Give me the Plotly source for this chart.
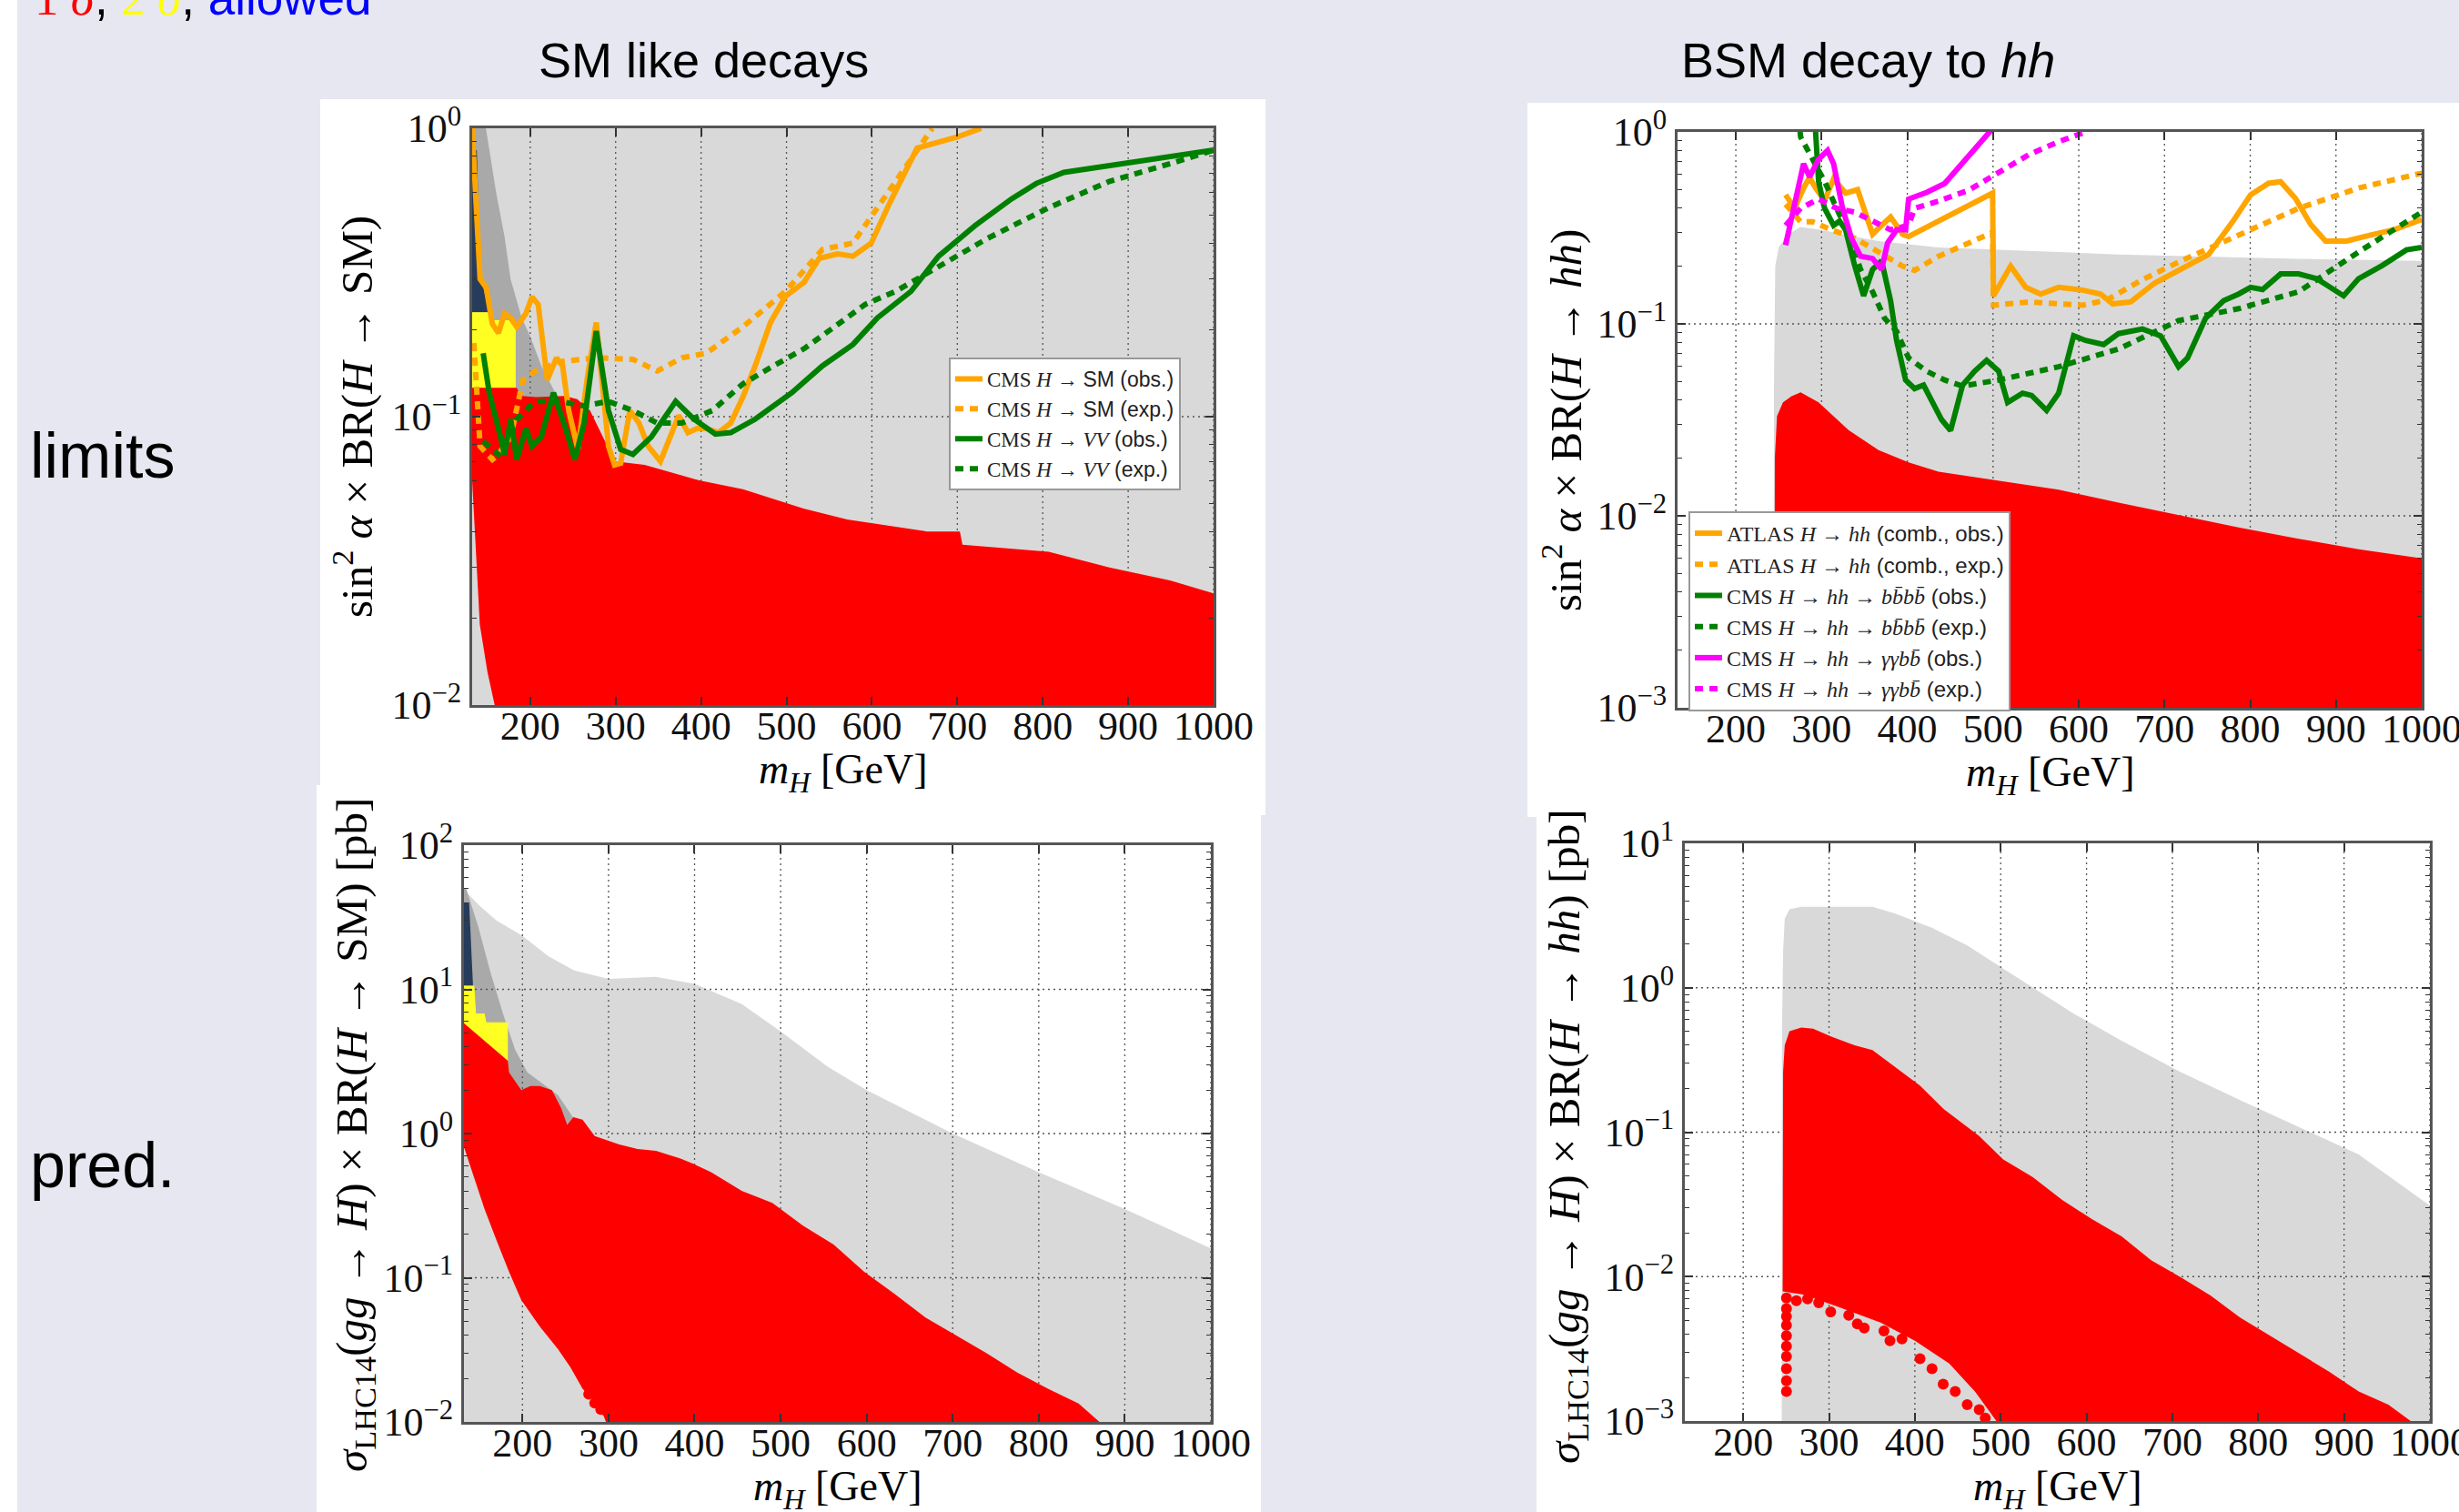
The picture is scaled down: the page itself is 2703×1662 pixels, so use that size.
import plotly.graph_objects as go

W, H = 2703, 1662

# ======================= DATA =======================
# ---- top-left: limits on sin^2(alpha) x BR(H -> SM) ----
tl_lgray_x = [132, 1000]
tl_lgray_hi = [2.0, 2.0]
tl_lgray_lo = [0.001, 0.001]

tl_dgray_x = [132, 148, 160, 170, 177, 190, 200, 213, 230, 248, 265]
tl_dgray_hi = [2.0, 1.0, 0.6, 0.42, 0.3, 0.22, 0.19, 0.15, 0.12, 0.1, 0.088]
tl_dgray_lo = [0.09, 0.09, 0.09, 0.09, 0.09, 0.09, 0.09, 0.09, 0.09, 0.09, 0.08]

tl_navy_x = [132, 137.5, 140, 142.7, 152]
tl_navy_hi = [0.84, 0.84, 0.46, 0.30, 0.23]
tl_navy_lo = [0.23, 0.23, 0.23, 0.23, 0.23]

tl_yel_x = [132, 152, 153, 183]
tl_yel_hi = [0.23, 0.23, 0.216, 0.216]
tl_yel_lo = [0.12, 0.12, 0.12, 0.12]

tl_red_x = [132, 136, 141, 150, 160, 184, 190, 207, 240, 255, 270, 285, 299, 334, 399,
            449, 520, 571, 664, 703, 706, 807, 878, 950, 1000]
tl_red_hi = [0.126, 0.126, 0.126, 0.126, 0.126, 0.126, 0.118, 0.117, 0.118, 0.115, 0.105,
             0.085, 0.07, 0.068, 0.06, 0.056, 0.048, 0.044, 0.04, 0.04, 0.036, 0.034,
             0.03, 0.027, 0.0244]
tl_red_lo = [0.06, 0.035, 0.019, 0.013, 0.0095, 0.005, 0.005, 0.005, 0.005, 0.005, 0.005,
             0.005, 0.005, 0.005, 0.005, 0.005, 0.005, 0.005, 0.005, 0.005, 0.005, 0.005,
             0.005, 0.005, 0.005]

sm_obs_x = [132, 137.7, 141.3, 148.5, 155.6, 162.8, 169.9, 177.1, 184.2, 195, 202, 209.3,
            220, 230.7, 237.9, 245, 255.8, 266.5, 277.3, 291.6, 298.7, 305.9, 316.6, 327.3,
            338.1, 352.4, 363.1, 373.9, 384.6, 395.3, 406.1, 420.4, 434.7, 449, 463.3,
            481.2, 499.1, 520.5, 538.4, 559.9, 577.8, 599.3, 620.7, 652.9, 699.4, 728]
sm_obs_y = [1.0, 0.46, 0.30, 0.28, 0.21, 0.195, 0.228, 0.22, 0.205, 0.228, 0.26, 0.245,
            0.134, 0.16, 0.15, 0.105, 0.077, 0.134, 0.212, 0.079, 0.068, 0.069, 0.105, 0.095,
            0.079, 0.07, 0.085, 0.101, 0.088, 0.091, 0.091, 0.088, 0.095, 0.117, 0.15,
            0.212, 0.262, 0.292, 0.354, 0.367, 0.36, 0.40, 0.55, 0.853, 0.932, 1.0]

sm_exp_x = [134, 141.3, 155.6, 162.8, 177.1, 191.4, 205.7, 234.3, 277.3, 320.2, 348.8,
            377.4, 406.1, 449, 499.1, 542, 577.8, 620.7, 670.8]
sm_exp_y = [0.18, 0.079, 0.071, 0.074, 0.085, 0.134, 0.144, 0.155, 0.16, 0.158, 0.144,
            0.16, 0.166, 0.205, 0.272, 0.38, 0.40, 0.61, 1.0]

vv_obs_x = [144.9, 152, 162.8, 169.9, 177.1, 184.2, 195, 202.1, 212.9, 227.2, 241.5, 252.2,
            263, 277.3, 291.6, 305.9, 320.2, 341.7, 370.3, 391.7, 416.8, 434.7, 463.3,
            506.2, 542, 577.8, 606.4, 645.8, 678, 720.9, 763.8, 792.5, 824.7, 1000]
vv_obs_y = [0.166, 0.121, 0.091, 0.074, 0.098, 0.071, 0.091, 0.079, 0.085, 0.121, 0.091,
            0.071, 0.095, 0.198, 0.105, 0.077, 0.074, 0.085, 0.113, 0.098, 0.087, 0.088,
            0.098, 0.121, 0.15, 0.178, 0.22, 0.272, 0.36, 0.46, 0.57, 0.644, 0.703, 0.84]

vv_exp_x = [144.9, 162.8, 184.2, 205.7, 234.3, 263, 291.6, 320.2, 348.8, 377.4, 413.2, 449,
            484.8, 520.5, 556.3, 592.1, 627.9, 663.7, 735.2, 806.8, 878.3, 949.9, 1000]
vv_exp_y = [0.082, 0.074, 0.098, 0.113, 0.113, 0.109, 0.113, 0.105, 0.095, 0.095, 0.105,
            0.13, 0.15, 0.172, 0.205, 0.245, 0.272, 0.313, 0.415, 0.53, 0.655, 0.755, 0.84]

# ---- top-right: limits on sin^2(alpha) x BR(H -> hh) ----
tr_lgray_x = [244, 244.5, 246, 250, 260, 275, 297, 366, 436, 506, 576, 646, 716, 786, 856, 1000]
tr_lgray_hi = [0.0005, 0.05, 0.2, 0.25, 0.29, 0.32, 0.31, 0.27, 0.25, 0.244, 0.237, 0.23,
               0.226, 0.222, 0.218, 0.213]
tr_lgray_lo = [0.0005] * 16

tr_red_x = [245, 245.5, 248, 255, 265, 275.6, 296.5, 331.5, 366.5, 401.5, 436.5, 506.5,
            576.5, 646.4, 716.4, 786.4, 856.4, 926.4, 1000]
tr_red_hi = [0.0005, 0.02, 0.033, 0.039, 0.042, 0.044, 0.039, 0.028, 0.022, 0.019, 0.017,
             0.0152, 0.0137, 0.0117, 0.0101, 0.0087, 0.0076, 0.0067, 0.006]
tr_red_lo = [0.0005] * 19

atlas_obs_x = [258, 268.6, 279, 286, 293, 303.5, 314, 328, 342, 359.5, 370, 380.5, 394.5,
               401.5, 499.5, 500.5, 520.5, 538, 555.5, 576.5, 604.5, 625.5, 639.5, 660.5,
               688.4, 716.4, 751.4, 779.4, 800.4, 821.4, 835.4, 852.9, 870.4, 887.9, 912.4,
               940.4, 968.3, 1000]
atlas_obs_y = [0.47, 0.40, 0.51, 0.58, 0.51, 0.44, 0.57, 0.48, 0.50, 0.293, 0.326, 0.36,
               0.293, 0.285, 0.48, 0.14, 0.2, 0.155, 0.143, 0.155, 0.15, 0.143, 0.127, 0.13,
               0.163, 0.19, 0.23, 0.34, 0.47, 0.54, 0.55, 0.45, 0.33, 0.27, 0.27, 0.29,
               0.31, 0.35]

atlas_exp_x = [258, 275.6, 289.6, 310.5, 338.5, 366.5, 394.5, 408.5, 436.5, 492.5, 499.5,
               500.5, 541.5, 604.5, 632.4, 674.4, 716.4, 786.4, 856.4, 926.4, 1000]
atlas_exp_y = [0.42, 0.34, 0.34, 0.31, 0.28, 0.236, 0.2, 0.19, 0.225, 0.29, 0.30, 0.125,
               0.13, 0.125, 0.133, 0.17, 0.21, 0.29, 0.40, 0.51, 0.61]

b4_obs_x = [291.5, 293, 296.5, 303.5, 314, 321, 328, 338.5, 349, 359.5, 370, 380.5, 387.5,
            398, 408.5, 419, 429.5, 440, 450.5, 464.5, 478.5, 492.5, 506.5, 517, 534.5, 545,
            562.5, 576.5, 594, 608, 629, 646.4, 674.4, 695.4, 716.4, 726.9, 747.9, 768.9,
            786.4, 800.4, 814.4, 835.4, 856.4, 877.4, 908.9, 926.4, 954.4, 982.3, 1000]
b4_obs_y = [1.3, 1.0, 0.553, 0.40, 0.326, 0.343, 0.309, 0.202, 0.14, 0.192, 0.213, 0.132,
            0.082, 0.051, 0.046, 0.048, 0.039, 0.0317, 0.0278, 0.048, 0.0567, 0.0646, 0.0567,
            0.039, 0.0435, 0.0424, 0.0354, 0.0435, 0.0867, 0.082, 0.078, 0.089, 0.094,
            0.0867, 0.0598, 0.0664, 0.107, 0.132, 0.143, 0.155, 0.151, 0.182, 0.182, 0.172,
            0.14, 0.172, 0.202, 0.243, 0.25]

b4_exp_x = [273, 275.6, 289.6, 303.5, 317.5, 331.5, 345.5, 359.5, 373.5, 387.5, 401.5,
            422.5, 443.5, 464.5, 506.5, 576.5, 646.4, 716.4, 786.4, 856.4, 926.4, 1000]
b4_exp_y = [1.2, 0.94, 0.72, 0.553, 0.40, 0.293, 0.192, 0.147, 0.107, 0.0915, 0.0664,
            0.0567, 0.051, 0.0474, 0.051, 0.0598, 0.074, 0.104, 0.12, 0.147, 0.237, 0.382]

gg_obs_x = [258, 268.6, 279, 286, 296.5, 307, 314, 324.5, 335, 345.5, 359.5, 370, 377,
            387.5, 398, 401.5, 422.5, 443.5, 464.5, 496, 505]
gg_obs_y = [0.257, 0.425, 0.683, 0.583, 0.72, 0.80, 0.683, 0.40, 0.278, 0.225, 0.219,
            0.192, 0.264, 0.309, 0.309, 0.447, 0.484, 0.538, 0.683, 1.0, 1.2]

gg_exp_x = [258, 275.6, 296.5, 317.5, 338.5, 359.5, 380.5, 401.5, 408.5, 436.5, 471.5,
            506.5, 541.5, 576.5, 608, 620]
gg_exp_y = [0.326, 0.40, 0.447, 0.40, 0.382, 0.343, 0.309, 0.326, 0.40, 0.436, 0.497,
            0.614, 0.76, 0.89, 1.0, 1.1]

# ---- bottom-left: predicted sigma x BR(H -> SM) [pb] ----
bl_lgray_x = [131, 150, 170, 200, 230, 260, 300, 355, 400, 455, 500, 555, 600, 700, 800, 900, 1000]
bl_lgray_hi = [50, 38, 30, 23.5, 17, 13.5, 11.8, 12.2, 10.9, 7.9, 5.1, 2.9, 2.0, 1.0, 0.54, 0.30, 0.16]
bl_lgray_lo = [0.005] * 17

bl_dgray_x = [131, 134.6, 148.8, 163, 177.3, 191.5, 205.7, 227, 241.3, 255.6, 266.2]
bl_dgray_hi = [50, 50, 27, 13, 6.8, 3.8, 2.66, 2.14, 1.85, 1.38, 1.1]
bl_dgray_lo = [3.0, 3.0, 2.8, 2.5, 2.2, 1.5, 1.3, 1.1, 1.0, 0.9, 0.8]

bl_navy_x = [131, 138, 142.5]
bl_navy_hi = [40, 40, 10.6]
bl_navy_lo = [10.6, 10.6, 10.6]

bl_yel_x = [131, 144, 146, 156, 158, 183]
bl_yel_hi = [10.6, 10.6, 6.8, 6.8, 5.9, 5.9]
bl_yel_lo = [5.0, 4.6, 4.5, 4.0, 3.9, 3.0]

bl_red_top_x = [131, 183, 184.4, 198.6, 209.3, 220, 234.2, 244.9, 252, 259.1, 269.8, 284,
                312.5, 333.8, 355.2, 383.7, 397.9, 419.3, 454.8, 490.4, 526, 561.6, 597.2,
                632.8, 668.4, 704, 739.5, 775.1, 810.7, 846.3, 874.8]
bl_red_top_y = [5.9, 3.2, 2.66, 2.0, 2.14, 2.14, 2.0, 1.5, 1.15, 1.3, 1.25, 0.96, 0.84,
                0.78, 0.76, 0.67, 0.62, 0.54, 0.4, 0.33, 0.23, 0.17, 0.11, 0.077, 0.053,
                0.04, 0.03, 0.022, 0.017, 0.0134, 0.0095]
bl_red_bot_x = [131, 141.7, 155.9, 170.1, 184.4, 198.6, 220, 241.3, 255.6, 269.8, 291.1,
                298.3, 874.8]
bl_red_bot_y = [0.84, 0.54, 0.3, 0.18, 0.11, 0.07, 0.046, 0.032, 0.024, 0.017, 0.0125,
                0.0095, 0.0095]

bl_dot_x = [277, 284, 291, 298, 305, 312, 326, 341, 355, 370, 384, 398]
bl_dot_y = [0.0156, 0.0135, 0.0122, 0.0118, 0.0108, 0.0105, 0.0102, 0.011, 0.0104, 0.0101,
            0.0106, 0.0109]

# ---- bottom-right: predicted sigma x BR(H -> hh) [pb] ----
br_lgray_x = [244.9, 245.2, 246.5, 248.4, 253.9, 267.7, 350.6, 378.2, 419.7, 461.1, 502.6,
              544, 585.5, 640.8, 709.8, 778.9, 848, 917.1, 1000]
br_lgray_hi = [0.0005, 0.5, 1.8, 3.0, 3.5, 3.63, 3.63, 3.25, 2.6, 1.96, 1.36, 0.95, 0.66,
               0.43, 0.26, 0.167, 0.108, 0.07, 0.031]
br_lgray_lo = [0.0005] * 19

br_red_top_x = [246, 246.5, 248.4, 253.9, 267.7, 281.5, 302.2, 329.9, 350.6, 378.2, 405.9,
                433.5, 475, 502.6, 537.1, 571.7, 606.2, 640.8, 675.3, 709.8, 744.4, 778.9,
                813.5, 848, 882.6, 917.1, 951.6, 982.7]
br_red_top_y = [0.0079, 0.26, 0.4, 0.5, 0.53, 0.52, 0.46, 0.4, 0.37, 0.28, 0.21, 0.145,
                0.094, 0.065, 0.049, 0.034, 0.025, 0.019, 0.013, 0.0099, 0.0074, 0.0052,
                0.0039, 0.0029, 0.0022, 0.0016, 0.0013, 0.00095]
br_red_bot_x = [246, 270, 310, 360, 400, 440, 470, 495, 500, 982.7]
br_red_bot_y = [0.0079, 0.0075, 0.0062, 0.0048, 0.0036, 0.0025, 0.0016, 0.001, 0.00095,
                0.00095]

br_dot_x = [250.4, 250.4, 250.4, 250.4, 250.4, 250.4, 250.4, 250.4, 250.4, 250.4,
            262, 275, 288, 302, 323, 333, 341, 364, 371, 385, 406, 420, 433, 447, 461,
            475, 482]
br_dot_y = [0.0071, 0.006, 0.0053, 0.0046, 0.0039, 0.0033, 0.0028, 0.0023, 0.0019, 0.0016,
            0.0068, 0.007, 0.0066, 0.0057, 0.0054, 0.0047, 0.0044, 0.0042, 0.0036, 0.0037,
            0.0027, 0.0023, 0.0018, 0.0016, 0.0013, 0.0012, 0.00105]

x_ticks = [200, 300, 400, 500, 600, 700, 800, 900, 1000]

# ======================= STYLE =======================
LAV = '#E7E7F1'
LGRAY = '#D9D9D9'
DGRAY = '#A9A9A9'
NAVY = '#263C5A'
YEL = '#FFFF22'
RED = '#FF0000'
ORANGE = '#FFA500'
GREEN = '#008000'
MAG = '#FF00FF'
SERIF = 'Liberation Serif'
SANS = 'Liberation Sans'
DOT = '9px,7px'
LW = 6


def px(x):
    return x / W


def py(y):
    return 1 - y / H


# subplot boxes in pixels: (left, right, top, bottom)
BOX = {
    '': (519, 1334, 141, 775),
    '2': (1844, 2662, 145, 778),
    '3': (510, 1331, 929, 1563),
    '4': (1852, 2671, 927, 1562),
}
YR = {'': (-2, 0), '2': (-3, 0), '3': (-2, 2), '4': (-3, 1)}
XR = [132, 1000]

fig = go.Figure()


def region(sub, xt, yt, xb, yb, color):
    fig.add_trace(go.Scatter(
        x=list(xt) + list(xb)[::-1], y=list(yt) + list(yb)[::-1],
        fill='toself', fillcolor=color, mode='lines', line=dict(width=0, color=color),
        xaxis='x' + sub, yaxis='y' + sub, showlegend=False, hoverinfo='skip'))


def band(sub, x, hi, lo, color):
    region(sub, x, hi, x, lo, color)


def grid(sub):
    lo, hi = YR[sub]
    xs, ys = [], []
    for v in x_ticks:
        xs += [v, v, None]
        ys += [10 ** lo, 10 ** hi, None]
    for k in range(lo + 1, hi):
        xs += [XR[0], XR[1], None]
        ys += [10 ** k, 10 ** k, None]
    fig.add_trace(go.Scatter(
        x=xs, y=ys, mode='lines', line=dict(color='#555555', width=1.3, dash='2px,4px'),
        xaxis='x' + sub, yaxis='y' + sub, showlegend=False, hoverinfo='skip'))


def line(sub, x, y, color, dash, name, legend):
    fig.add_trace(go.Scatter(
        x=x, y=y, mode='lines', name=name,
        line=dict(color=color, width=LW, dash=dash),
        xaxis='x' + sub, yaxis='y' + sub, legend=legend, hoverinfo='skip'))


def dots(sub, x, y):
    fig.add_trace(go.Scatter(
        x=x, y=y, mode='markers', marker=dict(color=RED, size=12, line=dict(width=0)),
        xaxis='x' + sub, yaxis='y' + sub, showlegend=False, hoverinfo='skip'))


# ---- top-left
band('', tl_lgray_x, tl_lgray_hi, tl_lgray_lo, LGRAY)
band('', tl_dgray_x, tl_dgray_hi, tl_dgray_lo, DGRAY)
band('', tl_navy_x, tl_navy_hi, tl_navy_lo, NAVY)
band('', tl_yel_x, tl_yel_hi, tl_yel_lo, YEL)
grid('')
band('', tl_red_x, tl_red_hi, tl_red_lo, RED)

sv = '<span style="font-family:%s">' % SERIF
line('', sm_obs_x, sm_obs_y, ORANGE, 'solid',
     sv + 'CMS <i>H</i> → </span>SM (obs.)', 'legend')
line('', sm_exp_x, sm_exp_y, ORANGE, DOT,
     sv + 'CMS <i>H</i> → </span>SM (exp.)', 'legend')
line('', vv_obs_x, vv_obs_y, GREEN, 'solid',
     sv + 'CMS <i>H</i> → <i>VV</i></span> (obs.)', 'legend')
line('', vv_exp_x, vv_exp_y, GREEN, DOT,
     sv + 'CMS <i>H</i> → <i>VV</i></span> (exp.)', 'legend')

# ---- top-right
band('2', tr_lgray_x, tr_lgray_hi, tr_lgray_lo, LGRAY)
grid('2')
band('2', tr_red_x, tr_red_hi, tr_red_lo, RED)

line('2', atlas_obs_x, atlas_obs_y, ORANGE, 'solid',
     sv + 'ATLAS <i>H</i> → <i>hh</i></span> (comb., obs.)', 'legend2')
line('2', atlas_exp_x, atlas_exp_y, ORANGE, DOT,
     sv + 'ATLAS <i>H</i> → <i>hh</i></span> (comb., exp.)', 'legend2')
line('2', b4_obs_x, b4_obs_y, GREEN, 'solid',
     sv + 'CMS <i>H</i> → <i>hh</i> → <i>bb̄bb̄</i></span> (obs.)', 'legend2')
line('2', b4_exp_x, b4_exp_y, GREEN, DOT,
     sv + 'CMS <i>H</i> → <i>hh</i> → <i>bb̄bb̄</i></span> (exp.)', 'legend2')
line('2', gg_obs_x, gg_obs_y, MAG, 'solid',
     sv + 'CMS <i>H</i> → <i>hh</i> → <i>γγbb̄</i></span> (obs.)', 'legend2')
line('2', gg_exp_x, gg_exp_y, MAG, DOT,
     sv + 'CMS <i>H</i> → <i>hh</i> → <i>γγbb̄</i></span> (exp.)', 'legend2')

# ---- bottom-left
band('3', bl_lgray_x, bl_lgray_hi, bl_lgray_lo, LGRAY)
band('3', bl_dgray_x, bl_dgray_hi, bl_dgray_lo, DGRAY)
band('3', bl_navy_x, bl_navy_hi, bl_navy_lo, NAVY)
band('3', bl_yel_x, bl_yel_hi, bl_yel_lo, YEL)
grid('3')
region('3', bl_red_top_x, bl_red_top_y, bl_red_bot_x, bl_red_bot_y, RED)
dots('3', bl_dot_x, bl_dot_y)

# ---- bottom-right
band('4', br_lgray_x, br_lgray_hi, br_lgray_lo, LGRAY)
grid('4')
region('4', br_red_top_x, br_red_top_y, br_red_bot_x, br_red_bot_y, RED)
dots('4', br_dot_x, br_dot_y)


# ======================= AXES =======================
def sup(k):
    return '10<sup>%s</sup>' % (('−%d' % -k) if k < 0 else str(k))


layout_axes = {}
for sub, (l, r, t, b) in BOX.items():
    lo, hi = YR[sub]
    common = dict(ticks='inside', ticklen=9, tickwidth=1.5, tickcolor='#333333',
                  showline=True, linecolor='#555555', linewidth=3, mirror='ticks',
                  showgrid=False, zeroline=False, fixedrange=True, automargin=False,
                  ticklabeloverflow='allow',
                  tickfont=dict(family=SERIF, size=44, color='#111111'))
    layout_axes['xaxis' + sub] = dict(
        domain=[px(l), px(r)], anchor='y' + sub, range=XR, ticklabelstandoff=-18,
        tickmode='array', tickvals=x_ticks, ticktext=[str(v) for v in x_ticks], **common)
    layout_axes['yaxis' + sub] = dict(
        domain=[py(b), py(t)], anchor='x' + sub, type='log', range=[lo, hi],
        tickmode='array', tickvals=[10 ** k for k in range(lo, hi + 1)],
        ticktext=[sup(k) for k in range(lo, hi + 1)],
        minor=dict(tickmode='array',
                   tickvals=[m * 10 ** k for k in range(lo, hi) for m in range(2, 10)],
                   ticks='inside', ticklen=5, tickwidth=1.2, tickcolor='#333333',
                   showgrid=False),
        **common)

# ======================= SHAPES (slide) =======================
shapes = [
    dict(type='rect', xref='paper', yref='paper', x0=0, x1=px(19), y0=0, y1=1,
         fillcolor='white', line=dict(width=0), layer='below'),
]
for (l, r, t, b) in [(352, 1391, 109, 896), (348, 1386, 863, 1662),
                     (1679, 2703, 113, 898), (1689, 2703, 898, 1662)]:
    shapes.append(dict(type='rect', xref='paper', yref='paper', x0=px(l), x1=px(r),
                       y0=py(b), y1=py(t), fillcolor='white', line=dict(width=0),
                       layer='below'))

# ======================= ANNOTATIONS =======================
ann = []


def text(x, y, s, size, family, xanchor='center', angle=0, color='#000000'):
    ann.append(dict(x=px(x), y=py(y), xref='paper', yref='paper', text=s, showarrow=False,
                    xanchor=xanchor, yanchor='middle', textangle=angle,
                    font=dict(family=family, size=size, color=color)))


text(36, -2, '<span style="color:#FF0000;font-family:%s">1 <i>σ</i></span>, '
             '<span style="color:#FFFF00;font-family:%s">2 <i>σ</i></span>, '
             '<span style="color:#0000FF">allowed</span>' % (SERIF, SERIF),
     53, SANS, xanchor='left')
text(773, 66, 'SM like decays', 54, SANS)
text(2053, 66, 'BSM decay to <i>hh</i>', 54, SANS)
text(31, 501, 'limits', 70, SANS, xanchor='left')
text(31, 1281, 'pred.', 70, SANS, xanchor='left')

text(388, 458, 'sin<sup>2</sup> <i>α</i> × BR(<i>H</i> → SM)', 49, SERIF, angle=-90)
text(1718, 462, 'sin<sup>2</sup> <i>α</i> × BR(<i>H</i> → <i>hh</i>)', 49, SERIF, angle=-90)
text(389, 1248, '<i>σ</i><sub>LHC14</sub>(<i>gg</i> → <i>H</i>) × BR(<i>H</i> → SM) [pb]',
     49, SERIF, angle=-90)
text(1722, 1249, '<i>σ</i><sub>LHC14</sub>(<i>gg</i> → <i>H</i>) × BR(<i>H</i> → <i>hh</i>) [pb]',
     49, SERIF, angle=-90)

xt = '<i>m</i><sub><i>H</i></sub> [GeV]'
text(926, 849, xt, 46, SERIF)
text(2253, 852, xt, 46, SERIF)
text(920, 1637, xt, 46, SERIF)
text(2261, 1637, xt, 46, SERIF)

legend_style = dict(bgcolor='white', bordercolor='#999999', borderwidth=2,
                    xanchor='left', yanchor='top')

fig.update_layout(
    width=W, height=H, autosize=False,
    margin=dict(l=0, r=0, t=0, b=0, pad=0, autoexpand=False),
    paper_bgcolor=LAV, plot_bgcolor='white',
    shapes=shapes, annotations=ann,
    legend=dict(x=px(1043), y=py(393), font=dict(family=SANS, size=23, color='#222222'),
                **legend_style),
    legend2=dict(x=px(1856), y=py(562), font=dict(family=SANS, size=24, color='#222222'),
                 **legend_style),
    **layout_axes,
)

fig.write_html('out.html')
